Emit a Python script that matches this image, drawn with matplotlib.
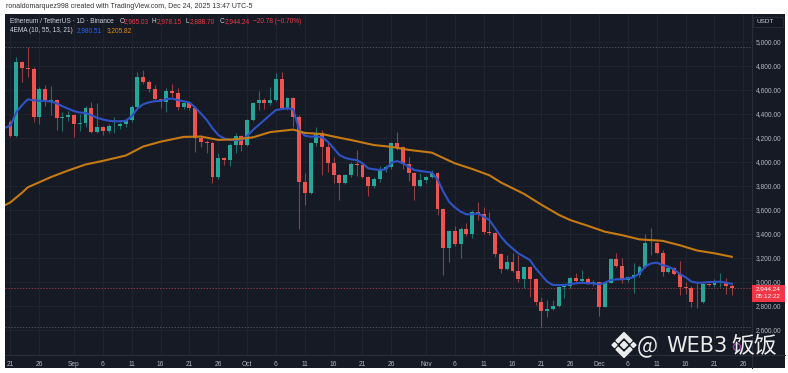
import numpy as np
import pandas as pd
import matplotlib
matplotlib.use("Agg")
import matplotlib.pyplot as plt
from matplotlib.patches import Rectangle, Polygon, Circle

# ETH/USDT daily candles, first candle 2025-08-21
start = pd.Timestamp("2025-08-21")

opens = [4332, 4215, 4827, 4777, 4770, 4373, 4602, 4504, 4510, 4360,
         4373, 4390, 4310, 4322, 4448, 4248, 4285, 4258, 4295, 4300,
         4310, 4346, 4457, 4707, 4660, 4602, 4521, 4493, 4588, 4575,
         4457, 4485, 4443, 4193, 4165, 4155, 3868, 4027, 4010, 4137,
         4212, 4137, 4346, 4485, 4512, 4485, 4512, 4685, 4443, 4527,
         4368, 3832, 3740, 4152, 4240, 4123, 3985, 3887, 3823, 3887,
         3979, 3975, 3873, 3796, 3852, 3935, 3951, 4157, 4118, 3976,
         3901, 3796, 3846, 3868, 3907, 3601, 3282, 3421, 3310, 3435,
         3393, 3576, 3560, 3410, 3405, 3226, 3104, 3165, 3090, 3021,
         3123, 3018, 2826, 2757, 2771, 2800, 2957, 2962, 3026, 3007,
         3020, 2985, 2992, 2790, 2990, 3185, 3129, 3012, 3035, 3054,
         3124, 3318, 3323, 3235, 3082, 3110, 3060, 2957, 2950, 2832,
         2828, 2979, 2971, 2998, 3000, 2965.03]
highs = [4346, 4873, 4840, 4957, 4790, 4623, 4637, 4632, 4525, 4415,
         4420, 4400, 4400, 4460, 4498, 4488, 4300, 4310, 4373, 4330,
         4355, 4470, 4748, 4762, 4680, 4640, 4525, 4615, 4643, 4610,
         4490, 4500, 4460, 4221, 4180, 4170, 4068, 4040, 4152, 4235,
         4225, 4355, 4495, 4587, 4530, 4618, 4735, 4748, 4540, 4540,
         4390, 3902, 4160, 4290, 4260, 4165, 4040, 3900, 3895, 4000,
         4096, 3990, 3880, 3870, 3960, 3975, 4165, 4249, 4125, 4035,
         3910, 3901, 3880, 3929, 3915, 3610, 3430, 3462, 3457, 3485,
         3596, 3665, 3623, 3582, 3410, 3235, 3221, 3240, 3221, 3129,
         3129, 3030, 2873, 2846, 2846, 2965, 2970, 3040, 3068, 3096,
         3035, 3010, 3000, 3000, 3193, 3240, 3193, 3050, 3151, 3135,
         3396, 3443, 3330, 3262, 3120, 3125, 3171, 3000, 2960, 2985,
         3000, 2990, 3018, 3068, 3026, 2978.15]
lows = [4207, 4205, 4660, 4707, 4332, 4310, 4465, 4387, 4262, 4257,
        4340, 4207, 4254, 4290, 4240, 4240, 4220, 4235, 4240, 4270,
        4285, 4330, 4440, 4645, 4582, 4510, 4448, 4415, 4540, 4430,
        4440, 4430, 4082, 4118, 4073, 3818, 3855, 3971, 3960, 4073,
        4085, 4130, 4335, 4429, 4437, 4470, 4505, 4435, 4430, 4290,
        3435, 3637, 3730, 4130, 3887, 3915, 3823, 3679, 3815, 3870,
        3880, 3860, 3712, 3780, 3830, 3910, 3940, 4100, 3935, 3837,
        3679, 3790, 3820, 3860, 3554, 3054, 3165, 3296, 3193, 3380,
        3360, 3512, 3400, 3387, 3207, 3068, 3095, 3082, 2998, 2943,
        2873, 2804, 2623, 2706, 2765, 2790, 2860, 2945, 2995, 2985,
        2980, 2960, 2712, 2785, 2985, 3123, 2985, 3000, 2907, 3040,
        3115, 3221, 3229, 3046, 3070, 3054, 2887, 2900, 2785, 2776,
        2820, 2960, 2957, 2957, 2900, 2888.70]
closes = [4215, 4827, 4777, 4770, 4373, 4602, 4504, 4510, 4360, 4373,
          4390, 4310, 4322, 4448, 4248, 4285, 4258, 4295, 4300, 4310,
          4346, 4457, 4707, 4660, 4602, 4521, 4493, 4588, 4575, 4457,
          4485, 4443, 4193, 4165, 4155, 3868, 4027, 4010, 4137, 4212,
          4137, 4346, 4485, 4512, 4485, 4512, 4685, 4443, 4527, 4368,
          3832, 3740, 4152, 4240, 4123, 3985, 3887, 3823, 3887, 3979,
          3975, 3873, 3796, 3852, 3935, 3951, 4157, 4118, 3976, 3901,
          3796, 3846, 3868, 3907, 3601, 3282, 3421, 3310, 3435, 3393,
          3576, 3560, 3410, 3405, 3226, 3104, 3165, 3090, 3021, 3123,
          3018, 2826, 2757, 2771, 2800, 2957, 2962, 3026, 3007, 3020,
          2985, 2992, 2790, 2990, 3185, 3129, 3012, 3035, 3054, 3124,
          3318, 3323, 3235, 3082, 3110, 3060, 2957, 2950, 2832, 2828,
          2979, 2971, 2998, 3000, 2965, 2944.24]

# EMA 10, one value per day starting 2025-08-20
ema10 = [4280, 4300, 4410, 4470, 4518, 4510, 4507, 4505, 4500, 4485,
         4460, 4440, 4420, 4408, 4405, 4385, 4365, 4350, 4340, 4335,
         4335, 4340, 4377, 4440, 4477, 4493, 4502, 4505, 4520, 4525,
         4512, 4502, 4492, 4450, 4400, 4346, 4277, 4221, 4193, 4180,
         4179, 4180, 4212, 4262, 4304, 4346, 4388, 4429, 4437, 4443,
         4435, 4265, 4215, 4207, 4210, 4201, 4165, 4110, 4054, 4030,
         4018, 4012, 3985, 3943, 3935, 3929, 3935, 3990, 4004, 3985,
         3957, 3929, 3921, 3915, 3907, 3851, 3749, 3665, 3618, 3582,
         3560, 3560, 3568, 3540, 3512, 3443, 3374, 3318, 3276, 3235,
         3207, 3179, 3110, 3054, 2999, 2971, 2971, 2971, 2979, 2985,
         2990, 2985, 2985, 2976, 2990, 3012, 3018, 3018, 3026, 3035,
         3068, 3124, 3151, 3157, 3137, 3124, 3101, 3062, 3035, 2999,
         2990, 2990, 2996, 2996, 2999, 2990, 2980.51]

# EMA 55, read at some days (offset from 2025-08-21)
ema55_days = [-1, 0, 2, 3, 7, 10, 13, 16, 20, 23, 26, 30, 33, 36, 39, 42,
              45, 49, 51, 54, 56, 59, 63, 66, 69, 73, 77, 80, 83, 85, 89,
              92, 95, 97, 100, 103, 106, 109, 113, 116, 119, 122, 125]
ema55 = [3635, 3660, 3740, 3785, 3870, 3925, 3975, 4005, 4050, 4125, 4165,
         4205, 4208, 4180, 4185, 4201, 4245, 4266, 4238, 4229, 4208, 4179,
         4137, 4122, 4097, 4074, 3985, 3938, 3885, 3825, 3730, 3640, 3556,
         3512, 3465, 3415, 3386, 3351, 3339, 3302, 3258, 3235, 3205.82]

price_ticks = list(range(2600, 5001, 200))
date_ticks = ["2025-08-21", "2025-08-26", "2025-09-01", "2025-09-06",
              "2025-09-11", "2025-09-16", "2025-09-21", "2025-09-26",
              "2025-10-01", "2025-10-06", "2025-10-11", "2025-10-16",
              "2025-10-21", "2025-10-26", "2025-11-01", "2025-11-06",
              "2025-11-11", "2025-11-16", "2025-11-21", "2025-11-26",
              "2025-12-01", "2025-12-06", "2025-12-11", "2025-12-16",
              "2025-12-21", "2025-12-26"]

BG = "#161a25"
GRID = "#212530"
SEP = "#2a2e39"
TXT = "#b2b5be"
UP = "#26a69a"
DOWN = "#ef5350"
BLUE = "#2f52c4"
ORANGE = "#c67a12"

plt.rcParams["font.family"] = ["Liberation Sans", "DejaVu Sans"]

W, H = 788, 373
fig = plt.figure(figsize=(W / 100, H / 100), dpi=100)
fig.patch.set_facecolor("white")


def fx(x):
    return x / W


def fy(y):
    return 1 - y / H


# dark panel (behind everything)
fig.patches.append(Rectangle((fx(5), fy(368)), fx(785) - fx(5), fy(14) - fy(368),
                             transform=fig.transFigure, facecolor=BG,
                             edgecolor="none", zorder=-10))

ax = fig.add_axes([fx(5), fy(355), fx(752) - fx(5), fy(14) - fy(355)])
ax.set_facecolor(BG)

o = np.array(opens, float)
h = np.array(highs, float)
l = np.array(lows, float)
c = np.array(closes, float)
x = np.arange(len(c))
cols = np.where(c >= o, UP, DOWN)

ax.vlines(x, l, h, colors=cols, lw=0.8, alpha=0.6, zorder=2)
ax.bar(x, np.maximum(np.abs(c - o), 4), width=0.68, bottom=np.minimum(o, c),
       color=cols, linewidth=0, zorder=3)

ax.plot(np.arange(-1, -1 + len(ema10)), ema10, color=BLUE, lw=1.5, zorder=4)
ax.plot(ema55_days, ema55, color=ORANGE, lw=1.5, zorder=4)

# high / low / last price lines
ax.axhline(h.max(), color="#5d606b", lw=0.6, ls=(0, (1.5, 2)), zorder=1)
ax.axhline(l.min(), color="#5d606b", lw=0.6, ls=(0, (1.5, 2)), zorder=1)
ax.axhline(c[-1], color="#a8444c", lw=0.6, ls=(0, (1.5, 2)), zorder=1)

ax.set_xlim(-0.953, 128.5)
ax.set_ylim(2387.5, 5229.2)

tick_pos = [(pd.Timestamp(d) - start).days for d in date_ticks]
tick_lab = [pd.Timestamp(d).strftime("%b") if pd.Timestamp(d).day == 1
            else str(pd.Timestamp(d).day) for d in date_ticks]
ax.set_xticks(tick_pos)
ax.set_xticklabels(tick_lab)
ax.set_yticks(price_ticks)
ax.set_yticklabels([f"{p:,.2f}" for p in price_ticks])
ax.yaxis.tick_right()
ax.grid(True, color=GRID, lw=0.6)
ax.set_axisbelow(True)
ax.tick_params(axis="both", length=0, labelsize=4.8, labelcolor=TXT)
ax.tick_params(axis="y", pad=3)
ax.tick_params(axis="x", pad=4.3)
for s in ["top", "left"]:
    ax.spines[s].set_visible(False)
for s in ["right", "bottom"]:
    ax.spines[s].set_color(SEP)
    ax.spines[s].set_linewidth(0.8)

# overlay in pixel coordinates
ov = fig.add_axes([0, 0, 1, 1], facecolor="none")
ov.set_xlim(0, W)
ov.set_ylim(H, 0)
ov.axis("off")

ov.plot([752, 752], [355, 368], color=SEP, lw=0.8)
ov.plot([752, 785], [355, 355], color=SEP, lw=0.8)

ov.text(6, 6.5, "ronaldomarquez998 created with TradingView.com, Dec 24, 2025 13:47 UTC-5",
        fontsize=5.0, color="#333333", va="center", ha="left")

hdr = "#d1d4dc"
red = "#f23645"
fs = 4.7
y1 = 21.5
ov.text(10, y1, "Ethereum / TetherUS · 1D · Binance", fontsize=fs, color=hdr, va="center")
for xp, s, col in [(119.5, "O", hdr), (124, "2,965.03", red), (152, "H", hdr),
                   (156.5, "2,978.15", red), (186, "L", hdr), (189.5, "2,888.70", red),
                   (220, "C", hdr), (224.5, "2,944.24", red),
                   (253.5, "\u221220.78 (\u22120.70%)", red)]:
    ov.text(xp, y1, s, fontsize=fs, color=col, va="center")
y2 = 30.5
ov.text(10, y2, "4EMA (10, 55, 13, 21)", fontsize=fs, color=hdr, va="center")
ov.text(77, y2, "2,980.51", fontsize=fs, color="#2962ff", va="center")
ov.text(107, y2, "3,205.82", fontsize=fs, color="#e08a10", va="center")

# currency box
ov.add_patch(Rectangle((753, 16.5), 30, 10, facecolor="#131722", edgecolor=SEP, lw=0.6))
ov.text(757, 21.5, "USDT", fontsize=4.6, color=hdr, va="center")

# last price tag
ov.add_patch(Rectangle((752, 284.5), 33, 17, facecolor=red, edgecolor="none"))
ov.text(768.5, 288.7, "2,944.24", fontsize=4.6, color="white", va="center", ha="center")
ov.text(768.5, 296.3, "05:12:22", fontsize=4.6, color="white", va="center", ha="center")

# small icon
ov.add_patch(Circle((737, 347), 3.5, fill=False, edgecolor="#9c3fb0", lw=1))

# watermark
wm = "#ececec"
ov.add_patch(Polygon([(624, 341.5), (627.5, 345), (624, 348.5), (620.5, 345)], color=wm))
ov.add_patch(Polygon([(614.5, 342.5), (617, 345), (614.5, 347.5), (612, 345)], color=wm))
ov.add_patch(Polygon([(633.5, 342.5), (636, 345), (633.5, 347.5), (631, 345)], color=wm))
ov.add_patch(Polygon([(616, 340.5), (624, 332.5), (632, 340.5), (629.7, 342.8),
                      (624, 337.1), (618.3, 342.8)], color=wm))
ov.add_patch(Polygon([(616, 349.5), (624, 357.5), (632, 349.5), (629.7, 347.2),
                      (624, 352.9), (618.3, 347.2)], color=wm))
wf = ["Noto Sans CJK SC", "DejaVu Sans"]
ov.text(637, 346, "@", fontsize=16, color=wm, va="center", family=wf)
ov.text(666, 346, "WEB3", fontsize=15, color=wm, va="center", family=["DejaVu Sans"])
ov.text(731, 346, "饭饭", fontsize=16.5, color=wm, va="center", family=wf)

fig.savefig("out.png", dpi=100, facecolor="white")
